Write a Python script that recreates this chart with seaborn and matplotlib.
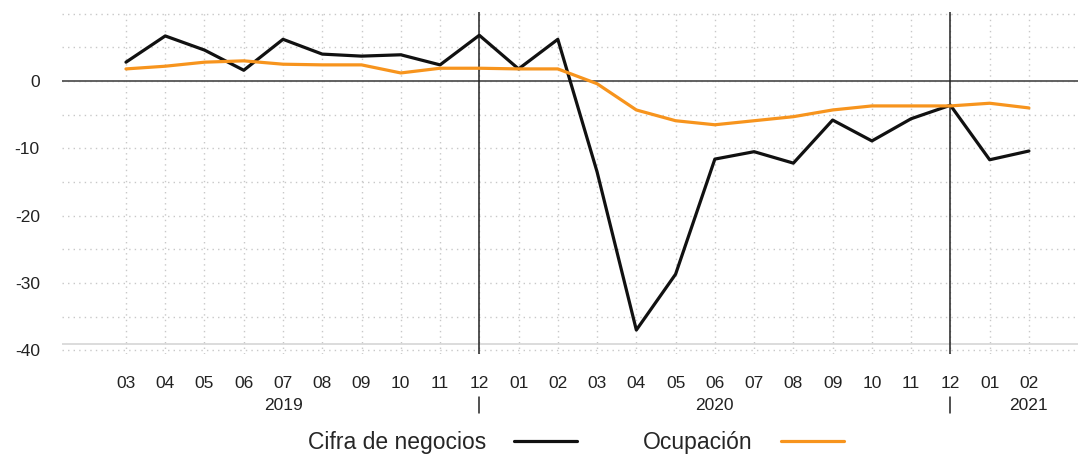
import pandas as pd
import seaborn as sns
import matplotlib.pyplot as plt
import matplotlib.transforms as mtransforms

sns.set_theme(style='white')
plt.rcParams['font.family'] = ['Liberation Sans', 'DejaVu Sans']

months = ['03', '04', '05', '06', '07', '08', '09', '10', '11', '12',
          '01', '02', '03', '04', '05', '06', '07', '08', '09', '10', '11', '12',
          '01', '02']
years = ['2019', '2020', '2021']
year_pos = [4, 15, 23]
year_breaks = [9, 21]
cifra = [2.8, 6.7, 4.6, 1.6, 6.2, 4.0, 3.7, 3.9, 2.4, 6.8, 1.8, 6.2,
         -13.5, -37.0, -28.7, -11.6, -10.5, -12.2, -5.8, -8.9, -5.6, -3.6,
         -11.7, -10.4]
ocupacion = [1.8, 2.2, 2.8, 3.0, 2.5, 2.4, 2.4, 1.2, 1.9, 1.9, 1.8, 1.8,
             -0.4, -4.3, -5.9, -6.5, -5.9, -5.3, -4.3, -3.7, -3.7, -3.7,
             -3.3, -4.0]

idx = list(range(len(months)))
df = pd.DataFrame({
    'x': idx * 2,
    'valor': cifra + ocupacion,
    'serie': ['Cifra de negocios'] * len(cifra) + ['Ocupación'] * len(ocupacion),
})

fig = plt.figure(figsize=(10.78, 4.57), dpi=100)
ax = fig.add_axes([0.0575, 0.2263, 0.9425, 0.7466])

# dotted grid
for v in range(-40, 11, 5):
    ax.axhline(v, color='#c8c8c8', lw=1, ls=(0, (1, 3)), zorder=0)
for i in idx:
    ax.axvline(i, color='#c8c8c8', lw=1, ls=(0, (1, 3)), zorder=0)
ax.axhline(-39.1, color='#d5d5d5', lw=1.2, zorder=0)
ax.axhline(0, color='#555555', lw=1.3, zorder=1)
for b in year_breaks:
    ax.axvline(b, color='#222222', lw=1.1, zorder=1)

sns.lineplot(data=df, x='x', y='valor', hue='serie',
             palette={'Cifra de negocios': '#111111', 'Ocupación': '#f7941d'},
             linewidth=2.3, ax=ax, legend=False, zorder=3)

ax.set_xlim(-1.63, 24.25)
ax.set_ylim(-40.5, 10.2)
ax.set_yticks([0, -10, -20, -30, -40])
ax.set_yticklabels(['0', '-10', '-20', '-30', '-40'], fontsize=12.5, color='#222222')
ax.set_xticks(idx)
ax.set_xticklabels(months, fontsize=12.5, color='#222222')
ax.tick_params(axis='both', length=0)
ax.tick_params(axis='x', pad=16)
ax.tick_params(axis='y', pad=16)
ax.set_xlabel('')
ax.set_ylabel('')
for s in ax.spines.values():
    s.set_visible(False)

trans = mtransforms.blended_transform_factory(ax.transData, ax.transAxes)
for y, p in zip(years, year_pos):
    ax.text(p, -0.151, y, transform=trans, ha='center', va='center',
            fontsize=12.5, color='#222222')
for b in year_breaks:
    ax.plot([b, b], [-0.127, -0.174], transform=trans, color='#222222',
            lw=1.1, clip_on=False)

handles = [plt.Line2D([], [], color='#111111', lw=2.3),
           plt.Line2D([], [], color='#f7941d', lw=2.3)]
fig.legend(handles, ['Cifra de negocios', 'Ocupación'], loc='center',
           bbox_to_anchor=(0.534, 0.031), ncol=2, frameon=False,
           markerfirst=False, fontsize=16.5, handlelength=2.75,
           columnspacing=2.9, handletextpad=1.22)

fig.savefig('out.png', dpi=100)
